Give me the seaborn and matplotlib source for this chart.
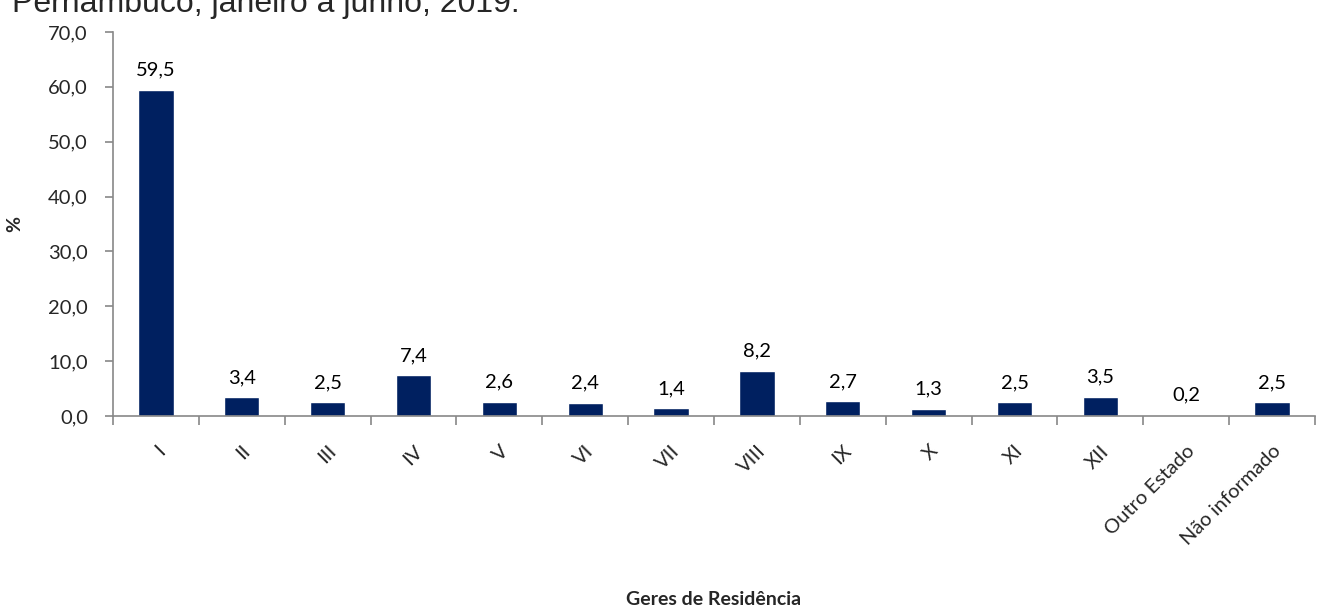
import numpy as np
import pandas as pd
import matplotlib
matplotlib.use("Agg")
import matplotlib.pyplot as plt
import seaborn as sns

categorias = ['I', 'II', 'III', 'IV', 'V', 'VI', 'VII', 'VIII', 'IX', 'X',
              'XI', 'XII', 'Outro Estado', 'Não informado']
percentuais = [59.5, 3.4, 2.5, 7.4, 2.6, 2.4, 1.4, 8.2, 2.7, 1.3, 2.5, 3.5, 0.2, 2.5]
yticks = [0, 10, 20, 30, 40, 50, 60, 70]

sns.set_style("white")
plt.rcParams['font.family'] = ['Lato', 'DejaVu Sans']

df = pd.DataFrame({'geres': categorias, 'pct': percentuais})

fig = plt.figure(figsize=(13.17, 6.09), dpi=100)
ax = fig.add_axes([0.0858, 0.317, 0.9127, 0.6305])

sns.barplot(data=df, x='geres', y='pct', color='#002060', width=0.41,
            saturation=1, ax=ax)

# rótulos de valor acima das barras
for i, v in enumerate(percentuais):
    ax.annotate(f"{v:.1f}".replace('.', ','), (i, v), xytext=(0, 8),
                textcoords='offset points', ha='center', va='bottom',
                fontsize=14.5, color='black')

ax.set_xlim(-0.5, len(categorias) - 0.5)
ax.set_ylim(0, 70)
ax.set_yticks(yticks)
ax.set_yticklabels([f"{t:.1f}".replace('.', ',') for t in yticks], fontsize=14.5)

ax.set_xticks(range(len(categorias)))
ax.set_xticklabels(categorias, rotation=45, ha='right', rotation_mode='anchor',
                   fontsize=14.5)
ax.set_xticks(np.arange(-0.5, len(categorias), 1), minor=True)
ax.tick_params(axis='x', which='major', length=0, pad=19)
ax.tick_params(axis='x', which='minor', length=6.5, width=1.2, color='#888888',
               direction='out', bottom=True)
ax.tick_params(axis='y', length=6, width=1.2, color='#888888', direction='out',
               left=True, pad=12)

for side in ['top', 'right']:
    ax.spines[side].set_visible(False)
for side in ['left', 'bottom']:
    ax.spines[side].set_color('#888888')
    ax.spines[side].set_linewidth(1.2)

ax.set_xlabel('Geres de Residência', fontsize=14, fontweight='bold')
ax.xaxis.set_label_coords(0.5, -0.455)
ax.set_ylabel('%', fontsize=14, fontweight='bold')
ax.yaxis.set_label_coords(-0.075, 0.5)

# título cortado no topo, como na imagem original
fig.text(0.009, 0.980, 'Pernambuco, janeiro a junho, 2019.', fontsize=23,
         family=['Liberation Sans', 'DejaVu Sans'], ha='left', va='baseline')

fig.savefig('out.png', dpi=100)
